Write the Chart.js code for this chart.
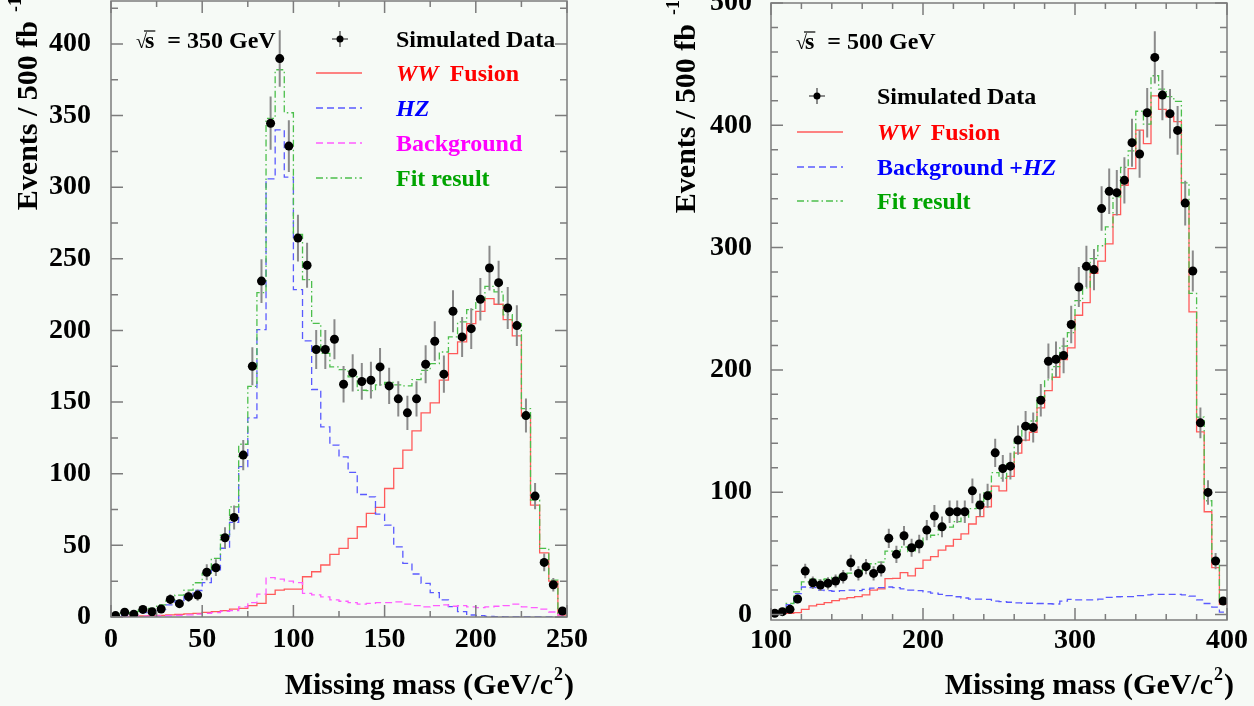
<!DOCTYPE html>
<html>
<head>
<meta charset="utf-8">
<script src="https://cdn.jsdelivr.net/npm/chart.js@4.4.1/dist/chart.umd.min.js"></script>
<style>
  html, body { margin: 0; padding: 0; background: #f6faf6; }
  #wrap { position: relative; width: 1254px; height: 706px; overflow: hidden; }
  canvas { position: absolute; top: 0; }
  #left { left: 0; }
  #right { left: 640px; }
</style>
</head>
<body>
<div id="wrap">
  <canvas id="left" width="620" height="706"></canvas>
  <canvas id="right" width="614" height="706"></canvas>
</div>
<script>
// ---- sqrt(s) = 350 GeV panel: 5 GeV bins from 0 to 250 ----
const leftBinStart = 0;
const leftBinWidth = 5;
const leftXTicks = [0, 50, 100, 150, 200, 250];
const leftYTicks = [0, 50, 100, 150, 200, 250, 300, 350, 400];

const leftData = [1, 3.3, 2, 5.3, 3.7, 5.6, 12.3, 9.3, 14.2, 15.3,
  31.2, 34.4, 55.3, 69.5, 113, 175, 234.5, 344.7, 389.8, 328.7,
  264.5, 245.5, 186.7, 186.7, 193.9, 162.5, 170.4, 164.4, 165.3, 174.6,
  161.3, 152.3, 142.5, 152.3, 176.4, 192.5, 169.5, 213.4, 195.5, 201.3,
  221.8, 243.6, 233.4, 215.7, 203.4, 140.6, 84.4, 38.1, 22.5, 4.2];
const leftWW = [0.2, 0.3, 0.5, 0.7, 0.9, 1.2, 1.5, 1.8, 2.2, 2.6,
  3.2, 3.8, 4.5, 5.5, 6, 8, 9.5, 15.8, 18.8, 19.5,
  19.5, 28.1, 31.6, 36.3, 43.7, 47.9, 54.9, 63, 72.3, 76.5,
  89.7, 103.7, 116.5, 129.9, 142.5, 149.5, 165.3, 183.9, 192, 204.8,
  213.4, 222.2, 218.3, 207.6, 196.2, 140.2, 78.1, 44.8, 25.1, 1.4];
const leftHZ = [0.5, 1.2, 2, 3, 4, 5.5, 8.5, 11.5, 14.5, 18.5,
  24, 33, 48, 66, 105, 139, 200.6, 305.9, 340, 307,
  228.5, 192.7, 158.8, 132.7, 120, 111.8, 100.9, 85.5, 83.9, 71.8,
  64.2, 49, 37.4, 30, 23.5, 17, 11.9, 7.2, 3.7, 1.4,
  1, 0.4, 0.2, 0.1, 0, 0, 0, 0, 0, 0];
const leftBkg = [0.3, 0.4, 0.5, 0.6, 0.6, 0.8, 1, 1.2, 1.5, 2,
  2.5, 3, 4, 4.5, 7, 10, 16, 27.5, 26.5, 25,
  24, 16.5, 15.5, 14, 12, 11, 10, 9, 9.5, 10,
  10, 10.5, 9, 8, 7, 8, 8.5, 7.5, 8, 7,
  6.5, 7, 7.5, 8, 9, 7, 6.5, 5.5, 3.5, 1.5];
const leftFit = [1.4, 2.6, 3.7, 4.9, 6, 8.4, 11.9, 15.3, 18.8, 23.9,
  30.4, 40.9, 57.2, 76.9, 120.6, 161, 226.4, 348, 382, 352,
  267, 235.5, 205, 184, 174.6, 172.7, 167.6, 158.3, 158, 162,
  163.7, 162, 161.3, 165.7, 172.2, 176.9, 185, 195.5, 206, 214.6,
  221, 230.8, 226.9, 211, 204.8, 145.5, 81.6, 47.9, 25.8, 2.6];

// ---- sqrt(s) = 500 GeV panel: 5 GeV bins from 100 to 400 ----
const rightBinStart = 100;
const rightBinWidth = 5;
const rightXTicks = [100, 200, 300, 400];
const rightYTicks = [0, 100, 200, 300, 400, 500];

const rightData = [1, 2.3, 4.2, 12.7, 35.5, 26, 24.1, 25.5, 27.4, 30.9,
  42.3, 33.6, 39.1, 33.6, 37.2, 62.3, 49.2, 64.4, 54.6, 57.6,
  69, 80.5, 71.7, 84, 84, 84, 101.1, 89.5, 97.1, 132.2,
  119.4, 121.3, 142.6, 154, 152.9, 175.2, 207.1, 208.7, 211.8, 237.1,
  267.8, 284.7, 282, 331.9, 346, 344.9, 355, 385.8, 376.5, 410.3,
  455.5, 424.7, 409.5, 395.8, 336.4, 280.9, 156.7, 99.8, 43.7, 11];
const rightWW = [0.5, 0.8, 1, 1.5, 4.2, 7, 8.3, 9.7, 11.3, 12.7,
  13.8, 14.6, 16, 20, 20.9, 29.3, 29.6, 34.2, 31.5, 37.7,
  44.5, 47.3, 52.7, 56, 61.4, 66, 74, 80, 88, 105,
  101, 113, 132, 142.5, 149, 169, 183, 194, 208.5, 218,
  244.7, 255, 279, 289, 303, 327, 351, 364.5, 396, 385,
  424, 413, 407, 403, 337, 247.5, 149.4, 84, 38.3, 8.3];
const rightBkgHZ = [0.5, 2, 8, 17, 22.5, 22, 20, 19.5, 19, 19.5,
  20, 19.5, 20.5, 21.5, 22, 22.5, 22, 21, 20, 19.5,
  18.5, 17.5, 16.5, 15.5, 14.5, 13.5, 12.5, 12.5, 12.4, 11,
  10.5, 10, 9.5, 9.2, 9.2, 9, 8.8, 8.6, 11, 12.4,
  12, 12, 12, 12.5, 14, 14.5, 14.6, 14.6, 15.5, 16,
  16.5, 16.5, 16.5, 16.5, 16, 15, 12, 9, 6, 2];
const rightFit = [1, 2.8, 9, 18.5, 26.7, 29, 28.3, 29.2, 30.3, 32.2,
  33.8, 34.1, 36.5, 41.5, 42.9, 51.8, 51.6, 55.2, 51.5, 57.2,
  63, 64.8, 69.2, 71.5, 75.9, 79.5, 86.5, 92.5, 100.4, 116,
  111.5, 123, 141.5, 151.7, 158.2, 178, 191.8, 202.6, 219.5, 230.4,
  256.7, 267, 291, 301.5, 317, 341.5, 365.6, 379.1, 411.5, 401,
  440.5, 429.5, 423.5, 419.5, 353, 262.5, 161.4, 93, 44.3, 10.3];

const SERIF = '"Liberation Serif", "Times New Roman", serif';
const BG = '#f6faf6';
const COL = {
  red: '#ff5a5a', blue: '#5a5aff', magenta: '#ff5cff', green: '#4cbf4c',
  redText: '#ff0000', blueText: '#0000ff', magentaText: '#ff00ff', greenText: '#00a400'
};
const DASH = { solid: [], dashed: [7, 4], dashDot: [7, 3, 1.5, 3] };

// histogram edges -> step line points (value held until the next edge)
function stepPoints(start, width, vals) {
  const pts = vals.map((v, i) => ({ x: start + i * width, y: v }));
  pts.push({ x: start + vals.length * width, y: vals[vals.length - 1] });
  return pts;
}

function dataPoints(start, width, vals) {
  return vals.map((v, i) => ({ x: start + (i + 0.5) * width, y: v }));
}

// statistical error bars, broken with nulls between bins
function errorBars(start, width, vals) {
  const pts = [];
  vals.forEach((v, i) => {
    const c = start + (i + 0.5) * width;
    const e = Math.sqrt(v);
    pts.push({ x: c, y: v - e }, { x: c, y: v + e }, { x: c, y: null });
  });
  return pts;
}

function drawParts(ctx, x, y, parts) {
  parts.forEach(p => {
    ctx.font = (p.italic ? 'italic ' : '') + 'bold 24px ' + SERIF;
    ctx.fillStyle = p.color;
    ctx.fillText(p.t, x, y);
    x += ctx.measureText(p.t).width + (p.gap || 0);
  });
}

function drawSqrtS(ctx, x, y, text) {
  ctx.fillStyle = '#000';
  ctx.font = '20px ' + SERIF;
  ctx.fillText('\u221A', x, y);
  const sx = x + ctx.measureText('\u221A').width - 2;
  ctx.font = 'bold 24px ' + SERIF;
  ctx.fillText('s', sx, y);
  const sw = ctx.measureText('s').width;
  ctx.strokeStyle = '#000';
  ctx.lineWidth = 1.2;
  ctx.setLineDash([]);
  ctx.beginPath();
  ctx.moveTo(sx - 1, y - 17);
  ctx.lineTo(sx + sw + 1, y - 17);
  ctx.stroke();
  ctx.fillText(text, sx + sw + 13, y);
}

function panelPlugin(cfg) {
  return {
    id: 'panel',
    beforeDraw(chart) {
      const ctx = chart.ctx;
      ctx.save();
      ctx.fillStyle = BG;
      ctx.fillRect(0, 0, chart.width, chart.height);
      ctx.restore();
    },
    afterDraw(chart) {
      const ctx = chart.ctx, a = chart.chartArea;
      const xs = chart.scales.x, ys = chart.scales.y;
      ctx.save();

      // frame and inward ticks on all four sides
      ctx.strokeStyle = '#7c7c7c';
      ctx.lineWidth = 1.5;
      ctx.setLineDash([]);
      ctx.strokeRect(a.left, a.top, a.right - a.left, a.bottom - a.top);
      ctx.beginPath();
      for (let v = Math.ceil(xs.min / cfg.xMinor) * cfg.xMinor; v <= xs.max; v += cfg.xMinor) {
        const px = xs.getPixelForValue(v);
        const len = v % cfg.xMajor === 0 ? 12 : 6;
        ctx.moveTo(px, a.bottom); ctx.lineTo(px, a.bottom - len);
        ctx.moveTo(px, a.top); ctx.lineTo(px, a.top + len);
      }
      for (let v = Math.ceil(ys.min / cfg.yMinor) * cfg.yMinor; v <= ys.max; v += cfg.yMinor) {
        const py = ys.getPixelForValue(v);
        const len = v % cfg.yMajor === 0 ? 12 : 7;
        ctx.moveTo(a.left, py); ctx.lineTo(a.left + len, py);
        ctx.moveTo(a.right, py); ctx.lineTo(a.right - len, py);
      }
      ctx.stroke();

      // axis titles
      ctx.fillStyle = '#000';
      ctx.textBaseline = 'alphabetic';
      const big = 'bold 30px ' + SERIF, small = 'bold 18px ' + SERIF;
      ctx.font = big;
      const t1 = 'Missing mass (GeV/c', t3 = ')';
      const w1 = ctx.measureText(t1).width, w3 = ctx.measureText(t3).width;
      ctx.font = small;
      const w2 = ctx.measureText('2').width;
      let tx = a.right + 7 - (w1 + w2 + w3 + 2);
      ctx.font = big;
      ctx.textAlign = 'left';
      ctx.fillText(t1, tx, 694);
      ctx.font = small;
      ctx.fillText('2', tx + w1 + 1, 680);
      ctx.font = big;
      ctx.fillText(t3, tx + w1 + w2 + 2, 694);

      ctx.save();
      ctx.translate(cfg.yTitleX, cfg.yTitleEnd);
      ctx.rotate(-Math.PI / 2);
      ctx.font = big;
      ctx.textAlign = 'right';
      ctx.fillText('Events / 500 fb', 0, 0);
      ctx.font = small;
      ctx.textAlign = 'left';
      ctx.fillText('-1', 9, -16);
      ctx.restore();

      // legend
      ctx.textAlign = 'left';
      const L = cfg.legend;
      drawSqrtS(ctx, L.sqrtX, L.sqrtY, L.energy);
      L.rows.forEach(r => {
        if (r.marker) {
          ctx.strokeStyle = '#666';
          ctx.lineWidth = 1.5;
          ctx.setLineDash([]);
          ctx.beginPath();
          ctx.moveTo(L.markX - 8, r.y); ctx.lineTo(L.markX + 8, r.y);
          ctx.moveTo(L.markX, r.y - 8); ctx.lineTo(L.markX, r.y + 8);
          ctx.stroke();
          ctx.fillStyle = '#000';
          ctx.beginPath();
          ctx.arc(L.markX, r.y, 3.5, 0, Math.PI * 2);
          ctx.fill();
        } else {
          ctx.strokeStyle = r.color;
          ctx.lineWidth = 1.3;
          ctx.setLineDash(r.dash);
          ctx.beginPath();
          ctx.moveTo(L.lineX1, r.y); ctx.lineTo(L.lineX2, r.y);
          ctx.stroke();
          ctx.setLineDash([]);
        }
        drawParts(ctx, L.textX, r.y + 8, r.parts);
      });
      ctx.restore();
    }
  };
}

function buildPanel(id, p) {
  const tickFont = { family: SERIF, size: 28, weight: 'bold' };
  const datasets = [
    {
      label: 'Simulated Data',
      data: dataPoints(p.start, p.width, p.data),
      showLine: false,
      pointRadius: 4.5,
      pointBackgroundColor: '#000',
      pointBorderWidth: 0,
      order: 0
    },
    {
      label: 'errors',
      data: errorBars(p.start, p.width, p.data),
      borderColor: '#8a8a8a',
      borderWidth: 2,
      pointRadius: 0,
      spanGaps: false,
      order: 1
    }
  ];
  p.hists.forEach((h, k) => {
    datasets.push({
      label: h.label,
      data: stepPoints(p.start, p.width, h.values),
      stepped: 'before',
      borderColor: h.color,
      borderWidth: 1.3,
      borderDash: h.dash,
      pointRadius: 0,
      fill: false,
      order: 2 + k
    });
  });

  return new Chart(document.getElementById(id), {
    type: 'line',
    data: { datasets: datasets },
    options: {
      responsive: false,
      animation: false,
      devicePixelRatio: 1,
      events: [],
      layout: { autoPadding: false, padding: p.padding },
      plugins: { legend: { display: false }, tooltip: { enabled: false } },
      scales: {
        x: {
          type: 'linear',
          min: p.xMin, max: p.xMax,
          afterBuildTicks: s => { s.ticks = p.xTicks.map(v => ({ value: v })); },
          afterFit: s => {
            s.height = p.xAxisHeight;
            s.paddingLeft = 0; s.paddingRight = 0;
          },
          grid: { display: false, drawTicks: false },
          border: { display: false },
          ticks: { font: tickFont, color: '#000', padding: p.xPad, maxRotation: 0, autoSkip: false }
        },
        y: {
          type: 'linear',
          min: p.yMin, max: p.yMax,
          afterBuildTicks: s => { s.ticks = p.yTicks.map(v => ({ value: v })); },
          afterFit: s => {
            s.width = p.yAxisWidth;
            s.paddingTop = 0; s.paddingBottom = 0;
          },
          grid: { display: false, drawTicks: false },
          border: { display: false },
          ticks: { font: tickFont, color: '#000', padding: p.yPad, autoSkip: false }
        }
      }
    },
    plugins: [panelPlugin(p.frame)]
  });
}

buildPanel('left', {
  start: leftBinStart, width: leftBinWidth, data: leftData,
  hists: [
    { label: 'Fit result', values: leftFit, color: COL.green, dash: DASH.dashDot },
    { label: 'Background', values: leftBkg, color: COL.magenta, dash: DASH.dashed },
    { label: 'HZ', values: leftHZ, color: COL.blue, dash: DASH.dashed },
    { label: 'WW Fusion', values: leftWW, color: COL.red, dash: DASH.solid }
  ],
  xMin: 0, xMax: 250, yMin: 0, yMax: 430,
  xTicks: leftXTicks, yTicks: leftYTicks,
  padding: { left: 0, right: 53, top: 1, bottom: 0 },
  xAxisHeight: 89, yAxisWidth: 111, xPad: 6, yPad: 20,
  frame: {
    xMinor: 25, xMajor: 50, yMinor: 25, yMajor: 50,
    yTitleX: 37, yTitleEnd: 21,
    legend: {
      sqrtX: 136, sqrtY: 48, energy: '= 350 GeV',
      markX: 340, lineX1: 316, lineX2: 362, textX: 396,
      rows: [
        { y: 39, marker: true, parts: [{ t: 'Simulated Data', color: '#000' }] },
        { y: 73, color: COL.red, dash: DASH.solid, parts: [
          { t: 'WW', italic: true, color: COL.redText, gap: 11 }, { t: 'Fusion', color: COL.redText }] },
        { y: 108, color: COL.blue, dash: DASH.dashed, parts: [{ t: 'HZ', italic: true, color: COL.blueText }] },
        { y: 143, color: COL.magenta, dash: DASH.dashed, parts: [{ t: 'Background', color: COL.magentaText }] },
        { y: 178, color: COL.green, dash: DASH.dashDot, parts: [{ t: 'Fit result', color: COL.greenText }] }
      ]
    }
  }
});

buildPanel('right', {
  start: rightBinStart, width: rightBinWidth, data: rightData,
  hists: [
    { label: 'Fit result', values: rightFit, color: COL.green, dash: DASH.dashDot },
    { label: 'Background +HZ', values: rightBkgHZ, color: COL.blue, dash: DASH.dashed },
    { label: 'WW Fusion', values: rightWW, color: COL.red, dash: DASH.solid }
  ],
  xMin: 100, xMax: 400, yMin: -4.5, yMax: 500,
  xTicks: rightXTicks, yTicks: rightYTicks,
  padding: { left: 0, right: 27, top: 3, bottom: 0 },
  xAxisHeight: 86, yAxisWidth: 131, xPad: 4, yPad: 19,
  frame: {
    xMinor: 20, xMajor: 100, yMinor: 20, yMajor: 100,
    yTitleX: 55, yTitleEnd: 24,
    legend: {
      sqrtX: 156, sqrtY: 49, energy: '= 500 GeV',
      markX: 177, lineX1: 157, lineX2: 203, textX: 237,
      rows: [
        { y: 96, marker: true, parts: [{ t: 'Simulated Data', color: '#000' }] },
        { y: 132, color: COL.red, dash: DASH.solid, parts: [
          { t: 'WW', italic: true, color: COL.redText, gap: 11 }, { t: 'Fusion', color: COL.redText }] },
        { y: 167, color: COL.blue, dash: DASH.dashed, parts: [
          { t: 'Background +', color: COL.blueText }, { t: 'HZ', italic: true, color: COL.blueText }] },
        { y: 201, color: COL.green, dash: DASH.dashDot, parts: [{ t: 'Fit result', color: COL.greenText }] }
      ]
    }
  }
});
</script>
</body>
</html>
